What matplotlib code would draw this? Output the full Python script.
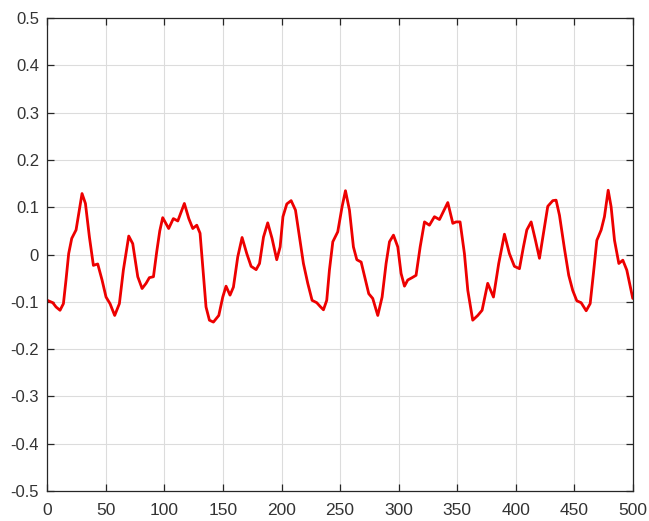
import numpy as np
import matplotlib
matplotlib.use("Agg")
import matplotlib.pyplot as plt
from matplotlib.ticker import FixedLocator

# puntos (muestra, valor)
muestra = [0, 4.6, 7.4, 10.8, 13.7, 15.9, 18.2, 20.8, 24.5, 26.8, 29.6, 32.5, 35.9, 39.3,
           43, 46.7, 50.1, 53.5, 57.5, 61.5, 64.9, 69.5, 72.9, 77.2, 80.9, 84.3, 87.1,
           90.6, 93.4, 96, 98.5, 103.6, 107.6, 111.4, 117, 120.8, 124.2, 127.6, 130.4,
           132.7, 135.5, 138.4, 141.8, 146.4, 149.8, 152.6, 156, 158.9, 162.6, 166.3,
           170.3, 174, 178.3, 181.2, 184.6, 188.2, 191.9, 195.9, 198.8, 201.2, 204.5,
           208.2, 211.9, 215.3, 218.7, 222.4, 226.1, 230.1, 233, 235.8, 238.6, 240.9,
           243.8, 248, 251.7, 254.6, 258, 261.4, 264.3, 268, 271.7, 274.5, 277.9, 282.2,
           285.9, 289.3, 292.2, 295.6, 299.3, 302.1, 305, 307.8, 311.5, 314.9, 318.4,
           322.1, 326.3, 330.6, 334.9, 342, 346.3, 349.1, 352.5, 356.2, 359.1, 363.3,
           367.6, 371.3, 376.1, 381, 385.5, 390.4, 394.6, 398.9, 403.2, 406.6, 409.5,
           413.2, 416.9, 420.3, 423.7, 427.4, 431.7, 434.5, 437.4, 441.6, 445.3, 448.7,
           452.2, 455.9, 460.2, 463.6, 466.4, 469.3, 473, 475.8, 479, 481.5, 484.4,
           488.1, 491.5, 494.9, 500]
senal = [-0.097, -0.102, -0.111, -0.118, -0.104, -0.054, 0.002, 0.034, 0.052, 0.087, 0.129,
         0.108, 0.037, -0.023, -0.02, -0.054, -0.09, -0.104, -0.129, -0.104, -0.033, 0.039,
         0.023, -0.047, -0.072, -0.061, -0.049, -0.047, 0.006, 0.05, 0.078, 0.055, 0.076,
         0.071, 0.108, 0.076, 0.055, 0.062, 0.045, -0.026, -0.111, -0.139, -0.143, -0.129,
         -0.09, -0.067, -0.086, -0.069, -0.005, 0.036, 0.002, -0.025, -0.032, -0.019,
         0.037, 0.067, 0.034, -0.011, 0.016, 0.08, 0.107, 0.114, 0.094, 0.037, -0.019,
         -0.061, -0.097, -0.102, -0.11, -0.117, -0.097, -0.033, 0.027, 0.048, 0.101, 0.135,
         0.094, 0.016, -0.011, -0.016, -0.054, -0.083, -0.093, -0.129, -0.09, -0.019,
         0.027, 0.041, 0.016, -0.04, -0.067, -0.054, -0.049, -0.044, 0.016, 0.069, 0.062,
         0.08, 0.074, 0.11, 0.066, 0.069, 0.069, 0.002, -0.076, -0.139, -0.129, -0.118,
         -0.061, -0.09, -0.019, 0.043, 0.002, -0.025, -0.03, 0.016, 0.052, 0.069, 0.03,
         -0.008, 0.045, 0.102, 0.114, 0.115, 0.083, 0.013, -0.044, -0.076, -0.098, -0.102,
         -0.119, -0.104, -0.04, 0.03, 0.052, 0.08, 0.136, 0.101, 0.03, -0.019, -0.012,
         -0.033, -0.093]

ticks_x = [0, 50, 100, 150, 200, 250, 300, 350, 400, 450, 500]
ticks_y = [-0.5, -0.4, -0.3, -0.2, -0.1, 0, 0.1, 0.2, 0.3, 0.4, 0.5]
etiquetas_y = ["-0.5", "-0.4", "-0.3", "-0.2", "-0.1", "0", "0.1", "0.2", "0.3", "0.4", "0.5"]

plt.rcParams["font.family"] = ["Liberation Sans", "DejaVu Sans"]
plt.rcParams["axes.unicode_minus"] = False

fig = plt.figure(figsize=(6.49, 5.21), dpi=100)
ax = fig.add_axes([0.073, 0.058, 0.902, 0.907])

ax.plot(muestra, senal, color=(0.93, 0.0, 0.0), linewidth=2.0,
        solid_joinstyle="round", solid_capstyle="round")

ax.set_xlim(0, 500)
ax.set_ylim(-0.5, 0.5)
ax.xaxis.set_major_locator(FixedLocator(ticks_x))
ax.set_yticks(ticks_y)
ax.set_yticklabels(etiquetas_y)

ax.grid(True, color="#dcdcdc", linewidth=0.8)
ax.set_axisbelow(True)
for lado in ax.spines.values():
    lado.set_color("#262626")
    lado.set_linewidth(0.9)
ax.tick_params(direction="in", length=5, width=0.9, colors="#262626",
               labelsize=12, top=True, right=True)
ax.tick_params(axis="x", pad=9, labelsize=12.5)
ax.tick_params(axis="y", pad=6)
ax.tick_params(labelcolor="#333333")

plt.savefig("out.png", dpi=100)
plt.close()
